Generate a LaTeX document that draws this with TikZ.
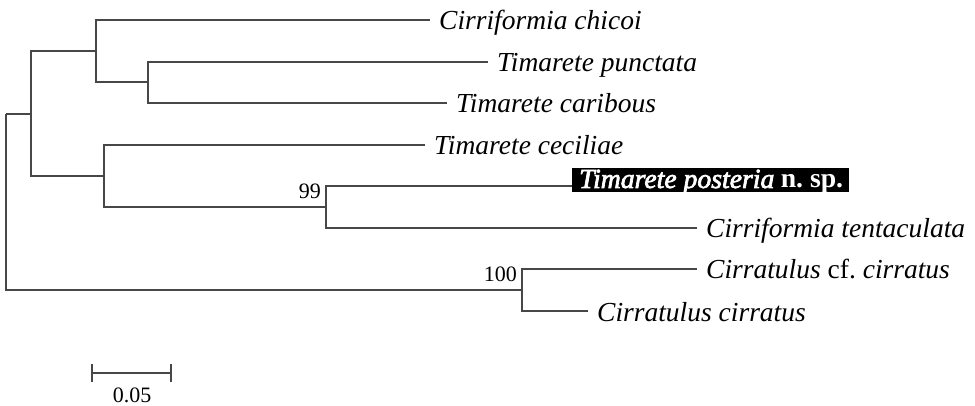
\documentclass[tikz,border=0pt]{standalone}
\usepackage{fontspec}
\setmainfont{Liberation Serif}
% italic emboldened by stroking, for the highlighted name
\newfontfamily\hlitalic{Liberation Serif}[FakeBold=2.5,ItalicFeatures={FakeBold=2.5}]
\begin{document}
\begin{tikzpicture}[x=1pt,y=-1pt,
  branch/.style={draw=black!72,line width=1.3pt},
  leaf/.style={anchor=west,inner xsep=9pt,inner ysep=0pt,text height=20pt,text depth=0pt,
    font=\fontsize{27.5}{27.5}\selectfont\itshape},
  support/.style={anchor=base east,inner sep=0pt,font=\fontsize{22}{22}\selectfont},
  hlband/.style={anchor=south west,fill=black,inner sep=0pt,minimum width=277pt,minimum height=24pt},
  hlword/.style={anchor=base west,inner sep=0pt,text=white,
    font=\fontsize{27.7}{27.7}\selectfont}]
\useasboundingbox (0,0) rectangle (975,406);

% internal nodes of the tree
\coordinate (root) at (6,114);
\coordinate (nA) at (31,114);
\coordinate (nB) at (96,51);
\coordinate (nC) at (148,82);
\coordinate (nD) at (104,176);
\coordinate (nE) at (326,207);
\coordinate (nF) at (522,290);

% terminal taxa
\node[leaf] (chicoi) at (430,20) {Cirriformia chicoi};
\node[leaf] (punct) at (488,62) {Timarete punctata};
\node[leaf] (carib) at (447,103) {Timarete caribous};
\node[leaf] (cecil) at (425,145) {Timarete ceciliae};
% the new species, white on a black band
\node[hlband] (post) at (572,192) {};
\node[hlword] (postA) at (579,188) {\hlitalic\itshape Timarete\hspace{0.25em}posteria};
\node[hlword] (postC) at ([xshift=6pt]postA.base east) {\bfseries n.\hspace{0.25em}sp.};
\node[leaf] (tent) at (697,228) {Cirriformia tentaculata};
\node[leaf] (cfcirr) at (697,269) {Cirratulus \upshape cf.\ \itshape cirratus};
\node[leaf] (cirr) at (588,311) {Cirratulus cirratus};

% branches
\draw[branch] (root) |- (nA);
\draw[branch] (root) |- (nF);
\draw[branch] (nA) |- (nB);
\draw[branch] (nA) |- (nD);
\draw[branch] (nB) |- (chicoi.west);
\draw[branch] (nB) |- (nC);
\draw[branch] (nC) |- (punct.west);
\draw[branch] (nC) |- (carib.west);
\draw[branch] (nD) |- (cecil.west);
\draw[branch] (nD) |- (nE);
\draw[branch] (nE) |- ([yshift=6pt]post.south west);
\draw[branch] (nE) |- (tent.west);
\draw[branch] (nF) |- (cfcirr.west);
\draw[branch] (nF) |- (cirr.west);

% bootstrap support values
\node[support] (bs99) at (321,199) {99};
\node[support] (bs100) at (517,282) {100};

% scale bar
\coordinate (sbL) at (92,373);
\coordinate (sbR) at (171,373);
\draw[branch] (sbL) -- (sbR);
\draw[branch] ([yshift=9pt]sbL) -- ([yshift=-9pt]sbL);
\draw[branch] ([yshift=9pt]sbR) -- ([yshift=-9pt]sbR);
\node[anchor=base,inner sep=0pt,font=\fontsize{22}{22}\selectfont] (sblabel) at (132,402) {0.05};
\end{tikzpicture}
\end{document}
